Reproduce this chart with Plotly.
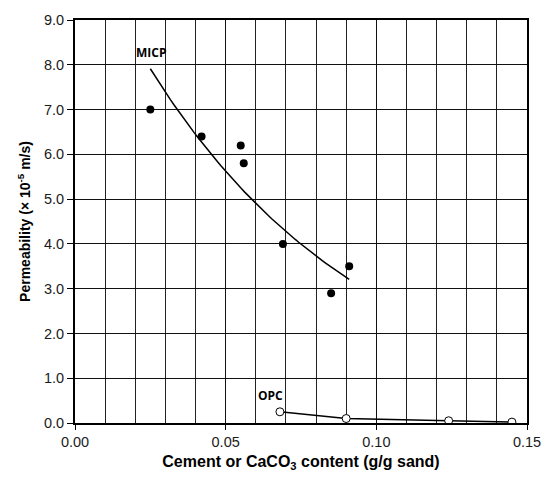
import numpy as np
import plotly.graph_objects as go

# MICP data
micp_x = [0.025, 0.042, 0.055, 0.056, 0.069, 0.085, 0.091]
micp_y = [7.0, 6.4, 6.2, 5.8, 4.0, 2.9, 3.5]
# OPC data
opc_x = [0.068, 0.090, 0.124, 0.145]
opc_y = [0.25, 0.10, 0.05, 0.02]

y_ticks = [0.0, 1.0, 2.0, 3.0, 4.0, 5.0, 6.0, 7.0, 8.0, 9.0]
x_ticks = [0.00, 0.05, 0.10, 0.15]

# exponential trendline fitted to MICP data
b, ln_a = np.polyfit(micp_x, np.log(micp_y), 1)
tx = np.linspace(min(micp_x), max(micp_x), 60)
ty = np.exp(ln_a + b * tx)

fig = go.Figure()
fig.add_trace(go.Scatter(x=tx, y=ty, mode="lines",
                         line=dict(color="black", width=1.5), showlegend=False))
fig.add_trace(go.Scatter(x=micp_x, y=micp_y, mode="markers",
                         marker=dict(color="black", size=8), showlegend=False))
fig.add_trace(go.Scatter(x=opc_x, y=opc_y, mode="lines+markers",
                         line=dict(color="black", width=1.5),
                         marker=dict(color="white", size=8,
                                     line=dict(color="black", width=1)),
                         showlegend=False))

fig.add_annotation(x=0.0252, y=8.27, text="<b>MICP</b>", showarrow=False,
                   font=dict(family="Open Sans", size=12, color="black"))
fig.add_annotation(x=0.0648, y=0.62, text="<b>OPC</b>", showarrow=False,
                   font=dict(family="Open Sans", size=12, color="black"))

fig.update_layout(
    width=553, height=480,
    margin=dict(l=75, r=20, t=14, b=55),
    paper_bgcolor="white", plot_bgcolor="white",
    font=dict(family="Liberation Sans, Arial", size=14.5, color="#1a1a1a"),
)
fig.update_xaxes(
    range=[0, 0.15], tickvals=x_ticks, ticktext=[f"{v:.2f}" for v in x_ticks],
    showgrid=True, gridcolor="#111", gridwidth=1,
    minor=dict(dtick=0.01, showgrid=True, gridcolor="#222", gridwidth=1),
    showline=True, linecolor="black", linewidth=2, mirror=True,
    ticks="outside", ticklen=5, tickcolor="black",
    zeroline=False,
    title=dict(text="<b>Cement or CaCO<sub>3</sub> content (g/g sand)</b>",
               font=dict(size=16, color="black"), standoff=6),
)
fig.update_yaxes(
    range=[0, 9], tickvals=y_ticks, ticktext=[f"{v:.1f}" for v in y_ticks],
    showgrid=True, gridcolor="#111", gridwidth=1,
    showline=True, linecolor="black", linewidth=2, mirror=True,
    ticks="outside", ticklen=6, tickcolor="black",
    zeroline=False,
    title=dict(text="<b>Permeability (× 10<sup>-5</sup> m/s)</b>",
               font=dict(size=14, color="black"), standoff=10),
)

fig.write_html("out.html")
